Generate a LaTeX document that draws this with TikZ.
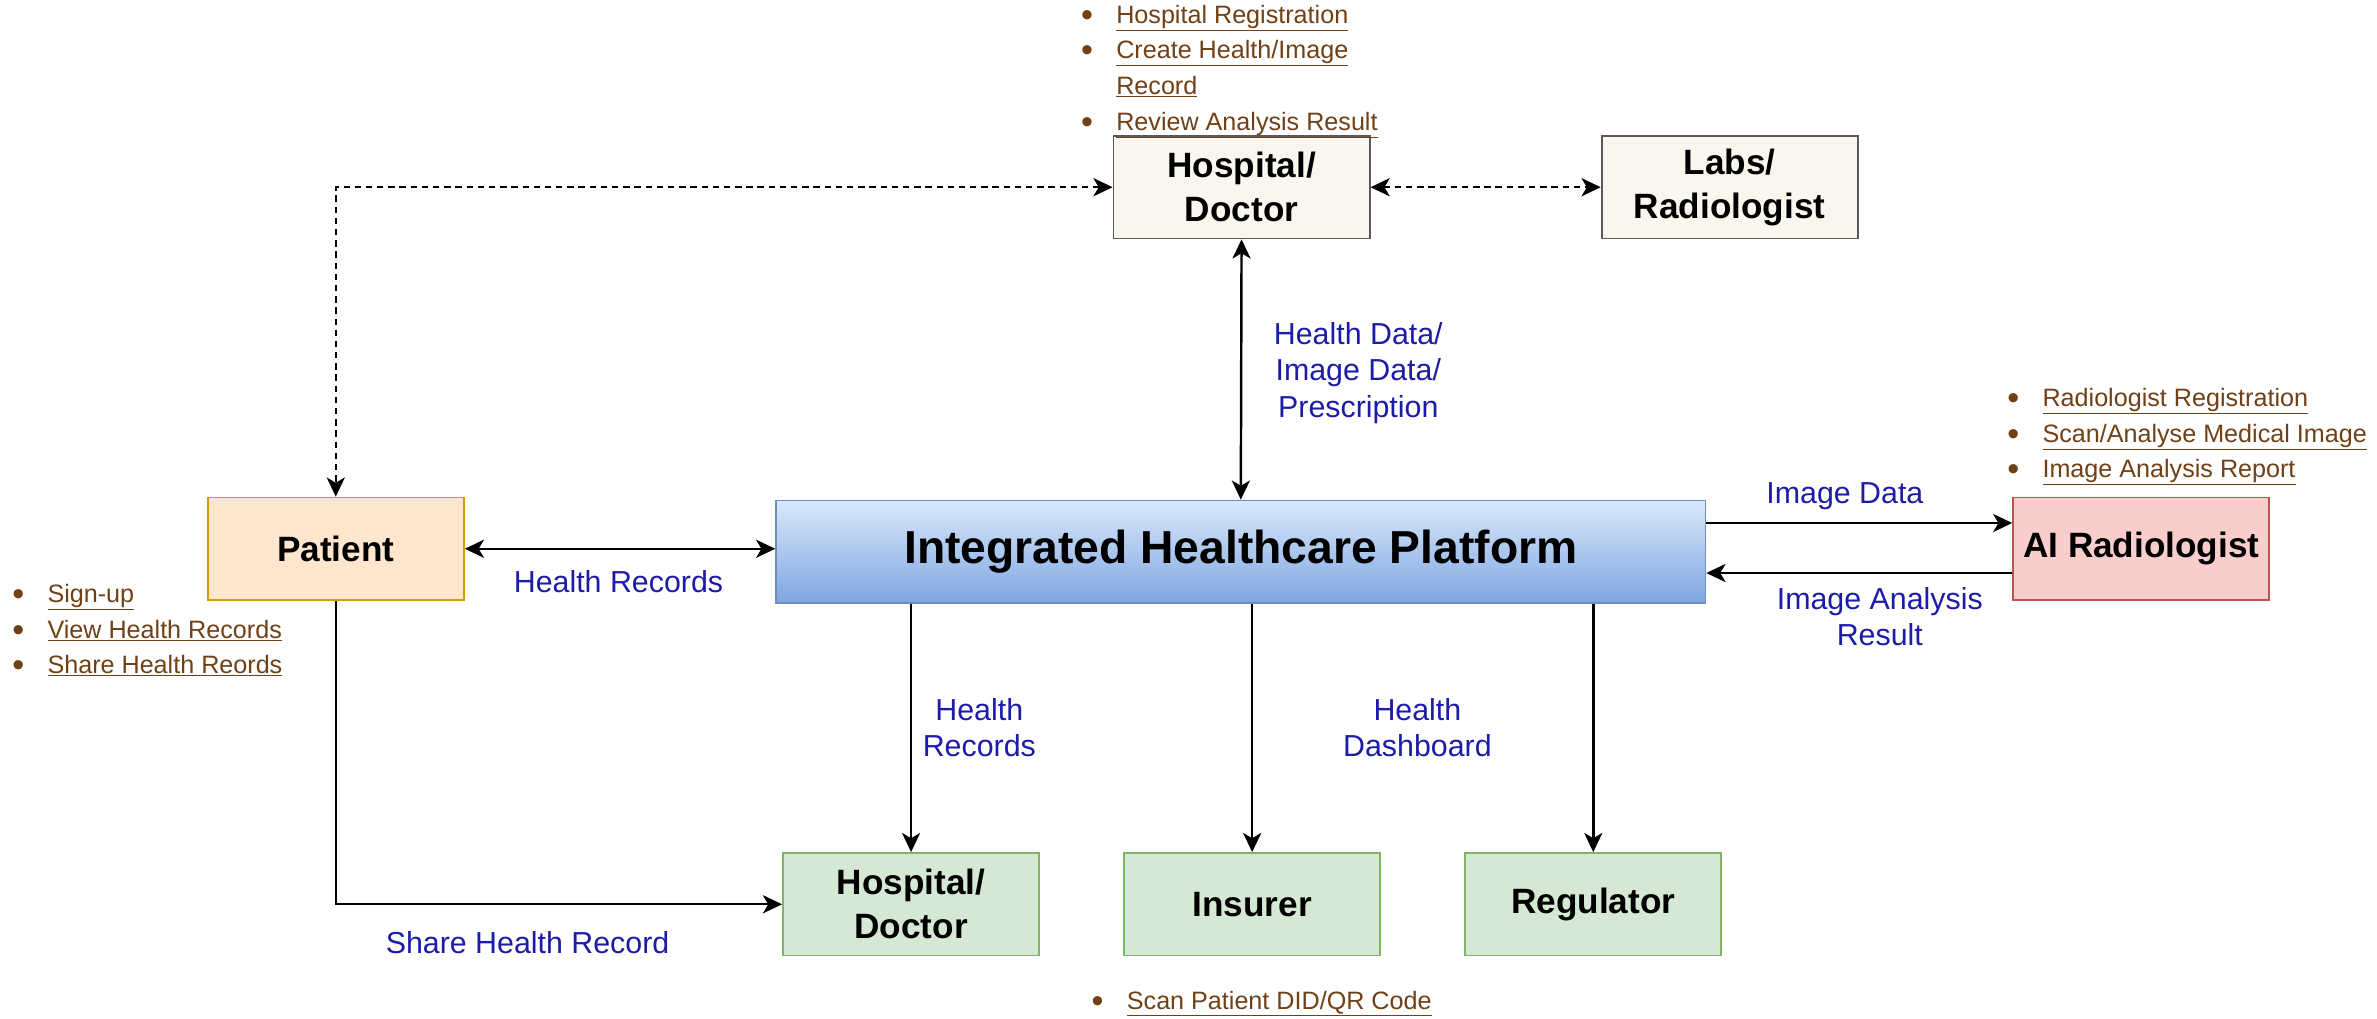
\documentclass[tikz,border=0pt]{standalone}
\usepackage{fontspec}
\setmainfont{Liberation Sans}
\usetikzlibrary{arrows.meta}
\definecolor{linkbrown}{RGB}{112,64,22}
\definecolor{labelblue}{RGB}{28,28,168}
\definecolor{creamfill}{RGB}{249,247,237}
\definecolor{creamline}{RGB}{90,90,90}
\definecolor{patfill}{RGB}{255,230,204}
\definecolor{patline}{RGB}{215,155,0}
\definecolor{aifill}{RGB}{248,206,204}
\definecolor{ailine}{RGB}{184,84,80}
\definecolor{greenfill}{RGB}{213,232,212}
\definecolor{greenline}{RGB}{130,179,102}
\definecolor{platline}{RGB}{108,142,191}
\newcommand{\bdot}{\makebox[1.4em][l]{\raisebox{-0.12em}{\fontsize{32}{32}\selectfont\textbullet}}}
\newcommand{\bitem}[1]{\bdot\underline{#1}}
\newcommand{\bcont}[1]{\hspace*{1.4em}\underline{#1}}
\begin{document}
\begin{tikzpicture}[x=0.05cm, y=-0.05cm,
  >={Stealth[length=18pt,width=17pt,inset=5pt]},
  box/.style={draw, line width=1.7pt, minimum width=8.45cm, minimum height=3.38cm,
    align=center, font=\fontsize{33}{41}\selectfont\bfseries},
  flow/.style={line width=2.3pt},
  dashflow/.style={line width=2.3pt, dash pattern=on 6pt off 4.5pt},
  lbl/.style={text=labelblue, align=center, font=\fontsize{28.5}{34}\selectfont},
  tasks/.style={text=linkbrown, align=left, anchor=west, inner sep=0pt,
    font=\fontsize{23.6}{33.4}\selectfont}
]
\useasboundingbox (0,0) rectangle (1568,672);

% Draw boxes
\node[box, fill=creamfill, draw=creamline] (hosp) at (819,123.5) {Hospital/\\Doctor};
\node[box, fill=creamfill, draw=creamline] (labs) at (1141,123.5) {Labs/\\Radiologist};
\node[box, draw=platline, top color={rgb,255:red,218;green,232;blue,252},
  bottom color={rgb,255:red,126;green,166;blue,224}, minimum width=30.65cm,
  font=\fontsize{43.4}{50}\selectfont\bfseries] (plat) at (818.5,364) {Integrated Healthcare Platform};
\node[box, fill=patfill, draw=patline] (patient) at (221.5,362) {Patient};
\node[box, fill=aifill, draw=ailine] (ai) at (1412.5,362) {AI Radiologist};
\node[box, fill=greenfill, draw=greenline] (hosp2) at (601,596.5) {Hospital/\\Doctor};
\node[box, fill=greenfill, draw=greenline] (insurer) at (826,596.5) {Insurer};
\node[box, fill=greenfill, draw=greenline] (regulator) at (1051,596.5) {Regulator};

% Draw connectors
\draw[dashflow, <->] (hosp.west) -| (patient.north);
\draw[dashflow, <->] (hosp.east) -- (labs.west);
\draw[flow, <->] (hosp.south) -- (plat.north);
\draw[flow, <->] (patient.east) -- (patient.east -| plat.west);
\draw[flow, ->] ([yshift=0.85cm]ai.west -| plat.east) -- ([yshift=0.85cm]ai.west);
\draw[flow, ->] ([yshift=-0.8cm]ai.west) -- ([yshift=-0.8cm]ai.west -| plat.east);
\foreach \n in {hosp2, insurer, regulator} {
  \draw[flow, ->] (\n.north |- plat.south) -- (\n.north);
}
\draw[flow, ->] (patient.south) |- (hosp2.west);

% Connector labels
\node[lbl] (lhealthdata) at (896,246) {Health Data/\\Image Data/\\Prescription};
\node[lbl] (lrecords) at (408,384) {Health Records};
\node[lbl] (limage) at (1217,327) {Image Data};
\node[lbl] (lresult) at (1240,407) {Image Analysis\\Result};
\node[lbl] (lrecords2) at (646,480) {Health\\Records};
\node[lbl] (ldashboard) at (935,480) {Health\\Dashboard};
\node[lbl] (lshare) at (348,622) {Share Health Record};

% Task lists
\node[tasks] (hosptasks) at (713,47) {\bitem{Hospital Registration}\\\bitem{Create Health/Image}\\\bcont{Record}\\\bitem{Review Analysis Result}};
\node[tasks] (pattasks) at (8,416) {\bitem{Sign-up}\\\bitem{View Health Records}\\\bitem{Share Health Reords}};
\node[tasks] (aitasks) at (1324,288) {\bitem{Radiologist Registration}\\\bitem{Scan/Analyse Medical Image}\\\bitem{Image Analysis Report}};
\node[tasks] (hosp2tasks) at (720,662) {\bitem{Scan Patient DID/QR Code}};
\end{tikzpicture}
\end{document}
